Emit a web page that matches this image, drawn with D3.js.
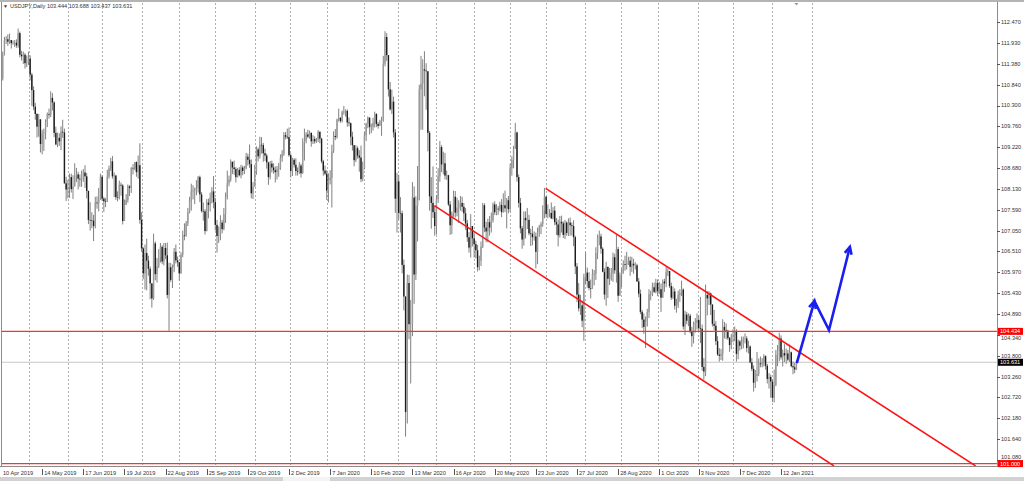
<!DOCTYPE html>
<html><head><meta charset="utf-8">
<script src="https://cdn.jsdelivr.net/npm/d3@7/dist/d3.min.js"></script>
<style>
html,body{margin:0;padding:0;background:#fff;overflow:hidden}
svg{display:block}
text{font-family:"Liberation Sans",Arial,sans-serif}
</style>
</head><body>
<svg id="chart" width="1024" height="481"></svg>
<script>
// ---------------- DATA ----------------
const symbolTitle = "USDJPY,Daily";
const lastQuote = ["103.444", "103.688", "103.437", "103.631"];

// Daily bars, 10 Apr 2019 .. 25 Jan 2021 (bar index 0..464)
const closes = [
111.00,111.63,112.00,112.02,111.96,112.00,111.92,111.93,111.93,111.86,112.18,111.62,111.58,111.62,111.40,
111.43,111.52,111.10,110.70,110.27,110.08,109.75,109.94,109.30,109.58,109.60,109.87,110.08,110.06,110.50,110.38,109.59,109.29,109.46,109.37,109.62,109.60,108.28,
108.12,108.18,108.44,108.13,108.20,108.47,108.51,108.40,108.38,108.55,108.56,108.46,108.08,107.33,107.32,107.31,107.17,107.78,107.76,107.85,
108.45,107.88,107.81,107.80,108.45,108.67,108.85,108.46,108.48,107.92,107.91,108.24,108.22,107.30,107.72,107.85,108.20,108.16,108.68,108.67,108.83,108.57,108.75,
107.33,106.59,105.94,106.47,106.27,106.06,105.68,105.29,106.72,105.92,106.12,106.36,106.63,106.25,106.60,106.41,105.38,106.10,105.77,106.10,106.50,106.28,
106.23,105.94,106.42,106.93,106.92,107.24,107.53,107.81,108.09,108.09,108.14,108.15,108.44,107.99,107.56,107.55,107.04,107.78,107.72,107.91,108.07,
107.79,107.20,106.91,106.94,107.26,107.09,107.48,107.92,108.28,108.38,108.84,108.69,108.65,108.44,108.63,108.49,108.69,108.60,108.67,108.97,108.89,108.78,108.02,
108.19,108.59,109.16,108.98,109.28,109.27,109.06,109.00,108.82,108.44,108.79,108.69,108.62,108.57,108.65,108.68,108.94,109.05,109.53,109.49,109.48,
109.01,108.60,108.89,108.76,108.60,108.58,108.74,108.54,109.34,109.38,109.55,109.49,109.59,109.37,109.43,109.37,109.42,109.62,109.44,108.85,108.61,
108.53,108.09,108.36,108.42,109.11,109.51,109.48,109.94,109.98,109.90,110.14,110.14,110.16,109.86,109.84,109.49,109.27,108.88,109.19,109.00,108.95,108.39,
108.67,109.52,109.83,109.98,109.74,109.75,109.85,110.08,109.82,109.77,109.89,109.91,111.39,112.08,111.61,110.72,110.20,110.40,109.60,107.88,
108.33,107.51,107.50,106.16,105.34,102.34,105.69,104.62,104.63,107.91,105.91,107.70,107.84,110.72,110.87,111.24,111.21,111.19,109.59,107.94,107.77,107.53,
107.17,107.87,108.46,109.22,108.77,108.80,108.48,108.49,107.73,107.19,107.49,107.93,107.52,107.65,107.76,107.77,107.67,107.50,107.24,106.88,106.61,107.17,
106.85,106.70,106.54,106.10,106.27,106.63,107.71,107.13,107.03,107.27,107.13,107.32,107.73,107.53,107.62,107.60,107.72,107.53,107.71,107.63,107.84,
107.61,108.67,108.89,109.18,109.60,108.44,107.77,107.11,106.82,107.38,107.32,107.33,106.98,106.97,106.88,106.90,106.50,107.02,107.16,107.22,107.56,107.93,
107.48,107.49,107.51,107.37,107.57,107.27,107.21,106.93,107.28,107.24,106.94,107.26,106.99,107.26,107.19,107.17,106.88,106.12,105.39,105.03,105.11,104.71,105.84,
105.96,105.74,105.56,105.55,105.92,105.93,106.47,106.86,106.90,106.58,105.98,105.39,106.11,105.80,105.80,105.94,106.36,106.02,106.57,105.36,105.89,
105.96,106.18,106.16,106.21,106.27,106.11,106.19,106.15,106.15,105.73,105.41,104.94,104.74,104.55,104.69,104.94,105.40,105.40,105.58,105.46,105.69,105.48,
105.53,105.31,105.73,105.68,105.97,106.00,105.61,105.31,105.47,105.10,105.11,105.38,105.43,105.52,104.56,104.87,104.71,104.84,104.42,104.31,104.61,104.65,
104.73,104.52,104.50,103.51,103.39,105.38,105.29,105.42,105.13,104.63,104.58,104.18,103.83,103.80,103.85,104.55,104.46,104.45,104.26,104.08,104.30,
104.33,104.43,103.85,104.17,104.06,104.15,104.24,104.25,104.00,104.04,103.63,103.46,103.10,103.28,103.33,103.60,103.58,103.63,103.79,103.54,103.20,103.25,
103.13,102.71,103.04,103.82,103.94,104.25,103.76,103.87,103.81,103.86,103.70,103.89,103.53,103.50,103.444,103.631];

const opens = [
111.10,111.00,111.63,112.00,112.02,111.96,112.00,111.92,111.93,111.93,111.86,112.18,111.62,111.58,111.62,
111.40,111.43,111.52,111.10,110.70,110.27,110.08,109.75,109.94,109.30,109.58,109.60,109.87,110.08,110.06,110.50,110.38,109.59,109.29,109.46,109.37,109.62,109.60,
108.28,108.12,108.18,108.44,108.13,108.20,108.47,108.51,108.40,108.38,108.55,108.56,108.46,108.08,107.33,107.32,107.31,107.17,107.78,107.76,
107.85,108.45,107.88,107.81,107.80,108.45,108.67,108.85,108.46,108.48,107.92,107.91,108.24,108.22,107.30,107.72,107.85,108.20,108.16,108.68,108.67,108.83,108.57,
108.75,107.33,106.59,105.94,106.47,106.27,106.06,105.68,105.29,106.72,105.92,106.12,106.36,106.63,106.25,106.60,106.41,105.38,106.10,105.77,106.10,106.50,
106.28,106.23,105.94,106.42,106.93,106.92,107.24,107.53,107.81,108.09,108.09,108.14,108.15,108.44,107.99,107.56,107.55,107.04,107.78,107.72,107.91,
108.07,107.79,107.20,106.91,106.94,107.26,107.09,107.48,107.92,108.28,108.38,108.84,108.69,108.65,108.44,108.63,108.49,108.69,108.60,108.67,108.97,108.89,108.78,
108.02,108.19,108.59,109.16,108.98,109.28,109.27,109.06,109.00,108.82,108.44,108.79,108.69,108.62,108.57,108.65,108.68,108.94,109.05,109.53,109.49,
109.48,109.01,108.60,108.89,108.76,108.60,108.58,108.74,108.54,109.34,109.38,109.55,109.49,109.59,109.37,109.43,109.37,109.42,109.62,109.44,108.85,
108.61,108.53,108.09,108.36,108.42,109.11,109.51,109.48,109.94,109.98,109.90,110.14,110.14,110.16,109.86,109.84,109.49,109.27,108.88,109.19,109.00,108.95,
108.39,108.67,109.52,109.83,109.98,109.74,109.75,109.85,110.08,109.82,109.77,109.89,109.91,111.39,112.08,111.61,110.72,110.20,110.40,109.60,
107.88,108.33,107.51,107.50,106.16,105.34,102.34,105.69,104.62,104.63,107.91,105.91,107.70,107.84,110.72,110.87,111.24,111.21,111.19,109.59,107.94,107.77,
107.53,107.17,107.87,108.46,109.22,108.77,108.80,108.48,108.49,107.73,107.19,107.49,107.93,107.52,107.65,107.76,107.77,107.67,107.50,107.24,106.88,106.61,
107.17,106.85,106.70,106.54,106.10,106.27,106.63,107.71,107.13,107.03,107.27,107.13,107.32,107.73,107.53,107.62,107.60,107.72,107.53,107.71,107.63,
107.84,107.61,108.67,108.89,109.18,109.60,108.44,107.77,107.11,106.82,107.38,107.32,107.33,106.98,106.97,106.88,106.90,106.50,107.02,107.16,107.22,107.56,
107.93,107.48,107.49,107.51,107.37,107.57,107.27,107.21,106.93,107.28,107.24,106.94,107.26,106.99,107.26,107.19,107.17,106.88,106.12,105.39,105.03,105.11,104.71,
105.84,105.96,105.74,105.56,105.55,105.92,105.93,106.47,106.86,106.90,106.58,105.98,105.39,106.11,105.80,105.80,105.94,106.36,106.02,106.57,105.36,
105.89,105.96,106.18,106.16,106.21,106.27,106.11,106.19,106.15,106.15,105.73,105.41,104.94,104.74,104.55,104.69,104.94,105.40,105.40,105.58,105.46,105.69,
105.48,105.53,105.31,105.73,105.68,105.97,106.00,105.61,105.31,105.47,105.10,105.11,105.38,105.43,105.52,104.56,104.87,104.71,104.84,104.42,104.31,104.61,
104.65,104.73,104.52,104.50,103.51,103.39,105.38,105.29,105.42,105.13,104.63,104.58,104.18,103.83,103.80,103.85,104.55,104.46,104.45,104.26,104.08,
104.30,104.33,104.43,103.85,104.17,104.06,104.15,104.24,104.25,104.00,104.04,103.63,103.46,103.10,103.28,103.33,103.60,103.58,103.63,103.79,103.54,103.20,
103.25,103.13,102.71,103.04,103.82,103.94,104.25,103.76,103.87,103.81,103.86,103.70,103.89,103.53,103.50,103.444];

const highs = [
111.20,111.70,112.08,112.10,112.15,112.17,112.00,111.99,112.00,112.02,112.30,112.22,111.72,111.70,111.66,
111.60,111.70,111.60,111.15,110.80,110.37,110.10,110.08,109.95,109.67,109.70,109.94,110.12,110.22,110.67,110.62,110.41,109.75,109.60,109.58,109.76,109.93,109.70,
108.45,108.37,108.53,108.53,108.49,108.80,108.68,108.58,108.51,108.61,108.65,108.75,108.55,108.09,107.79,107.53,107.46,107.93,107.94,108.16,
108.53,108.49,107.93,107.90,108.63,108.74,108.94,108.99,108.56,108.50,108.07,108.35,108.30,108.26,107.86,108.00,108.25,108.23,108.70,108.78,108.83,108.85,109.00,
109.32,107.53,106.62,106.69,106.84,106.40,106.12,105.65,106.97,106.77,106.34,106.57,106.73,106.67,106.73,106.73,106.74,106.22,106.21,106.17,106.60,106.69,
106.38,106.24,106.49,107.05,107.24,107.30,107.64,107.93,108.27,108.23,108.17,108.36,108.47,108.48,108.05,107.78,107.61,107.87,107.88,108.04,108.18,
108.47,107.90,107.33,107.16,107.45,107.33,107.64,108.04,108.61,108.48,108.90,108.84,108.87,108.70,108.68,108.70,108.76,108.74,108.73,109.07,109.05,109.29,108.90,
108.31,108.76,109.24,109.21,109.49,109.48,109.33,109.18,109.05,108.84,108.86,108.87,108.80,108.72,108.73,108.81,109.03,109.14,109.61,109.61,109.70,
109.73,109.06,108.94,108.93,108.93,108.69,108.83,108.79,109.45,109.70,109.61,109.67,109.65,109.60,109.53,109.50,109.46,109.66,109.58,109.46,108.89,
108.74,108.62,108.54,108.62,109.28,109.63,109.69,109.96,110.22,110.00,110.17,110.29,110.20,110.20,109.99,109.86,109.62,109.08,109.27,109.24,109.14,109.26,
108.84,109.61,109.85,110.02,110.00,109.83,109.98,110.14,110.10,109.87,109.93,110.01,111.59,112.23,112.18,111.48,110.91,110.71,110.53,109.69,
108.55,108.50,107.92,107.57,106.30,105.33,105.91,105.90,105.25,108.31,108.20,107.94,108.73,110.84,111.59,111.50,111.71,111.40,111.13,109.64,108.44,108.72,
107.70,107.97,108.67,109.38,109.27,109.10,109.07,108.61,108.50,107.82,107.55,108.09,108.08,107.91,107.84,107.95,107.93,107.77,107.64,107.33,107.02,107.48,
107.14,107.01,106.79,106.68,106.40,106.77,107.77,107.76,107.28,107.36,107.43,107.52,107.78,107.81,107.74,107.69,107.80,107.87,108.02,108.09,107.90,
107.95,108.79,108.98,109.25,109.85,109.62,108.51,107.90,107.17,107.55,107.55,107.64,107.46,107.10,107.17,107.03,107.00,107.13,107.20,107.28,107.71,108.16,
107.95,107.73,107.61,107.78,107.66,107.69,107.38,107.34,107.43,107.44,107.29,107.33,107.29,107.37,107.39,107.26,107.32,106.92,106.21,105.69,105.38,105.23,105.93,
106.48,106.09,105.97,105.78,106.05,106.03,106.62,106.95,107.05,106.97,106.62,106.07,106.24,106.10,106.08,106.08,106.48,106.45,106.95,106.63,105.96,
106.06,106.28,106.40,106.50,106.37,106.38,106.37,106.32,106.23,106.19,105.82,105.52,104.99,104.90,104.82,105.02,105.53,105.49,105.70,105.70,105.80,105.78,
105.72,105.68,105.78,105.80,106.11,106.07,106.00,105.70,105.60,105.55,105.28,105.49,105.53,105.75,105.55,104.97,104.94,104.90,104.89,104.55,104.69,104.78,
104.90,104.85,105.33,104.61,103.74,105.65,105.48,105.48,105.44,105.14,104.99,104.70,104.31,104.00,103.98,104.75,104.68,104.64,104.48,104.29,104.37,
104.49,104.56,104.49,104.22,104.21,104.30,104.30,104.38,104.31,104.19,104.07,103.74,103.55,103.43,103.90,103.73,103.78,103.74,103.84,103.81,103.59,103.35,
103.31,103.19,103.44,103.95,104.08,104.40,104.33,103.96,104.10,103.99,103.95,104.09,103.91,103.65,103.62,103.688];

const lows = [
110.84,110.95,111.60,111.90,111.85,111.90,111.78,111.88,111.82,111.80,111.80,111.55,111.47,111.38,111.26,
111.30,111.35,110.95,110.29,110.18,109.93,109.47,109.49,109.08,109.03,109.12,109.42,109.74,109.96,110.00,110.17,109.48,109.27,109.22,109.25,109.14,109.46,108.27,
107.82,107.89,107.90,108.04,107.87,108.28,108.31,108.12,108.19,108.19,108.32,108.16,107.89,107.22,107.05,107.11,106.78,107.11,107.62,107.55,
107.86,107.82,107.54,107.66,107.80,108.40,108.60,108.40,107.92,107.85,107.81,107.86,107.96,107.21,107.36,107.73,107.78,107.95,108.03,108.51,108.62,108.45,108.40,
107.23,106.50,105.79,105.52,105.50,105.88,105.27,105.05,105.25,105.76,105.70,106.08,106.22,106.18,106.15,106.31,105.29,104.45,105.72,105.56,105.97,106.20,
106.11,105.75,105.93,106.36,106.80,106.89,107.17,107.50,107.57,107.86,107.74,107.97,108.04,107.79,107.52,107.31,106.95,107.03,107.37,107.55,107.76,
107.63,107.05,106.48,106.73,106.80,106.98,107.06,107.25,107.86,108.20,108.32,108.52,108.50,108.30,108.43,108.46,108.41,108.49,108.52,108.64,108.74,108.68,107.89,
107.87,108.24,108.50,108.85,108.92,109.05,108.84,108.86,108.66,108.24,108.38,108.56,108.53,108.30,108.38,108.45,108.63,108.84,108.99,109.42,109.43,
108.97,108.43,108.47,108.69,108.48,108.48,108.52,108.43,108.53,108.87,109.32,109.45,109.44,109.23,109.30,109.31,109.33,109.35,109.32,108.80,108.48,
108.49,107.85,107.78,108.25,107.65,109.07,109.40,109.44,109.88,109.85,109.86,110.06,110.01,109.75,109.76,109.27,109.13,108.72,108.83,108.92,108.58,108.31,
108.33,108.64,109.38,109.71,109.55,109.58,109.65,109.73,109.74,109.70,109.78,109.51,109.88,111.32,111.46,110.53,110.17,110.08,109.47,107.51,
107.00,107.34,107.00,105.94,104.98,101.70,102.04,104.23,103.08,104.31,105.15,105.77,106.77,107.84,109.67,109.67,110.54,110.19,109.11,107.57,107.10,107.38,
106.92,106.95,107.77,108.32,108.57,108.51,108.38,108.37,107.69,106.94,106.96,107.41,107.39,107.42,107.25,107.57,107.54,107.30,107.07,106.76,106.48,106.35,
106.64,106.35,106.33,105.99,106.02,106.13,106.60,107.01,106.75,106.75,106.92,107.00,107.26,107.46,107.45,107.46,107.55,107.40,107.52,107.53,107.11,
107.50,107.54,108.48,108.67,109.17,108.32,107.65,106.98,106.58,106.66,106.85,107.09,106.93,106.65,106.67,106.79,106.07,106.18,106.89,106.96,107.15,107.37,
107.39,107.37,107.40,107.35,107.34,107.19,106.94,106.64,106.87,107.00,106.86,106.83,106.92,106.91,106.92,106.92,106.65,105.92,105.19,104.95,104.86,104.54,104.19,
105.67,105.57,105.50,105.29,105.54,105.63,105.77,106.31,106.67,106.45,105.97,105.26,105.10,105.30,105.64,105.75,105.72,105.93,105.70,105.20,105.39,
105.58,105.93,106.01,106.04,106.16,105.88,105.98,105.93,106.04,105.72,105.32,104.88,104.52,104.37,104.00,104.56,104.78,105.24,105.35,105.43,105.42,105.35,
105.40,104.94,105.30,105.46,105.58,105.87,105.56,105.25,105.27,105.00,104.92,105.04,105.20,105.35,104.48,104.34,104.62,104.57,104.38,104.03,104.12,104.40,
104.48,104.44,104.13,103.41,103.18,103.27,104.85,105.12,104.86,104.56,104.46,104.08,103.80,103.65,103.69,103.67,104.25,104.23,104.21,103.90,103.97,
104.15,104.18,103.65,103.71,103.94,103.97,103.99,104.12,103.89,103.86,103.60,103.40,102.87,102.96,103.13,103.27,103.50,103.50,103.52,103.44,103.08,102.95,
102.71,102.60,102.59,103.01,103.53,103.66,103.70,103.52,103.64,103.59,103.66,103.64,103.50,103.32,103.35,103.437];

// Right price-axis tick labels
const priceTicks = [112.470,111.930,111.380,110.840,110.300,109.760,109.220,108.680,108.130,107.590,107.050,
  106.510,105.970,105.430,104.890,104.340,103.800,103.260,102.720,102.180,101.640,101.080];

// Time-axis labels and the bar index at which each sits
const dateLabels = ["10 Apr 2019","14 May 2019","17 Jun 2019","19 Jul 2019","22 Aug 2019","25 Sep 2019",
  "29 Oct 2019","2 Dec 2019","7 Jan 2020","10 Feb 2020","13 Mar 2020","16 Apr 2020","20 May 2020",
  "23 Jun 2020","27 Jul 2020","28 Aug 2020","1 Oct 2020","3 Nov 2020","7 Dec 2020","12 Jan 2021"];
const dateLabelBars = [0,24,48,72,96,120,144,168,192,216,240,264,288,312,336,360,384,407,431,455];

// Vertical dotted grid separators (bar index)
const gridBars = [16.3,39.1,58.9,82.3,103.9,124.9,148.2,168.6,190.2,211.8,231.6,253.8,276,297,318,340.7,
  361.7,383.3,406.6,427,449.8,473.2];

// Drawn objects: horizontal levels, bid line, channel, forecast arrow  [bar, price]
const levelPrices = [104.434, 101.000];
const bidPrice = 103.631;
const channelUpper = [[317.7,108.15],[568.5,100.94]];
const channelLower = [[252.8,107.70],[485.9,100.94]];
const forecastPath = [[464.2,103.61],[474.5,105.22],[483.0,104.47],[495.2,106.63]];

// ---------------- DRAW ----------------
const svg = d3.select("#chart");
const PL = 2, PR = 997, PT = 3, PB = 466;
const x = d3.scaleLinear().domain([0, 581]).range([1, PR]);
const y = d3.scaleLinear().domain([100.937, 112.963]).range([PB, PT]);

svg.append("rect").attr("width",1024).attr("height",481).attr("fill","#fff");
svg.append("defs").append("clipPath").attr("id","plotclip")
  .append("rect").attr("x",PL).attr("y",PT).attr("width",PR-PL).attr("height",PB-PT);

// window chrome
svg.append("rect").attr("x",0).attr("y",0).attr("width",1024).attr("height",2).attr("fill","#b4b4b4");
svg.append("rect").attr("x",0).attr("y",477).attr("width",1024).attr("height",4).attr("fill","#d2d2d2");
svg.append("rect").attr("x",283).attr("y",477).attr("width",47).attr("height",4).attr("fill","#f4f4f4");

const plot = svg.append("g").attr("clip-path","url(#plotclip)");

// grid
plot.selectAll("line.grid").data(gridBars).join("line").attr("class","grid")
  .attr("x1",d=>Math.round(x(d))+0.5).attr("x2",d=>Math.round(x(d))+0.5)
  .attr("y1",PT).attr("y2",PB)
  .attr("stroke","#b0b0b0").attr("stroke-width",1).attr("stroke-dasharray","2,2");

// bid line
plot.append("line").attr("x1",PL).attr("x2",PR).attr("y1",y(bidPrice)).attr("y2",y(bidPrice))
  .attr("stroke","#c8c8c8").attr("stroke-width",1);

// candles
const bars = d3.range(closes.length).map(i => ({i, o:opens[i], h:highs[i], l:lows[i], c:closes[i]}));
plot.selectAll("line.wick").data(bars).join("line").attr("class","wick")
  .attr("x1",d=>x(d.i)).attr("x2",d=>x(d.i))
  .attr("y1",d=>y(Math.max(d.h,d.o,d.c))).attr("y2",d=>y(Math.min(d.l,d.o,d.c)))
  .attr("stroke","#808080").attr("stroke-width",1);
plot.selectAll("rect.body").data(bars).join("rect").attr("class","body")
  .attr("x",d=>x(d.i)-0.7).attr("width",1.4)
  .attr("y",d=>y(Math.max(d.o,d.c)))
  .attr("height",d=>Math.max(0.6, Math.abs(y(d.o)-y(d.c))))
  .attr("fill",d=>d.c < d.o ? "#1c1c1c" : "#9a9a9a");

// horizontal levels
plot.selectAll("line.level").data(levelPrices).join("line").attr("class","level")
  .attr("x1",0).attr("x2",PR).attr("y1",d=>y(d)).attr("y2",d=>y(d))
  .attr("stroke","#ff3030").attr("stroke-width",1.2);

// channel
const ln = d3.line().x(d=>x(d[0])).y(d=>y(d[1]));
[channelUpper, channelLower].forEach(c => {
  plot.append("path").attr("d", ln(c)).attr("fill","none")
    .attr("stroke","#ff1414").attr("stroke-width",1.6);
});

// forecast arrow
const fp = forecastPath.map(d => [x(d[0]), y(d[1])]);
plot.append("path").attr("d", d3.line()(fp)).attr("fill","none")
  .attr("stroke","#1a1ff0").attr("stroke-width",2.6).attr("stroke-linejoin","miter");
function head(p0, p1){
  const a = Math.atan2(p1[1]-p0[1], p1[0]-p0[0]), L = 8, s = 0.45;
  return `M${p1[0]-L*Math.cos(a-s)},${p1[1]-L*Math.sin(a-s)}L${p1[0]},${p1[1]}L${p1[0]-L*Math.cos(a+s)},${p1[1]-L*Math.sin(a+s)}`;
}
[[fp[0],fp[1]],[fp[2],fp[3]]].forEach(([a,b]) => {
  plot.append("path").attr("d", head(a,b)).attr("fill","none")
    .attr("stroke","#1a1ff0").attr("stroke-width",2.6).attr("stroke-linejoin","miter");
});

// frame
svg.append("line").attr("x1",1.5).attr("x2",1.5).attr("y1",2).attr("y2",PB).attr("stroke","#8c8c8c");
svg.append("line").attr("x1",PR+0.5).attr("x2",PR+0.5).attr("y1",2).attr("y2",PB+1).attr("stroke","#8c8c8c");
svg.append("line").attr("x1",0).attr("x2",PR).attr("y1",PB+0.5).attr("y2",PB+0.5).attr("stroke","#8c8c8c");

// shift marker
const lx = x(closes.length-1);
svg.append("path").attr("d",`M${lx-2},3L${lx+2},3L${lx},5.5Z`).attr("fill","#999");

// price tags (drawn objects' prices and the bid)
const tags = [{p:levelPrices[0], bg:"#ff0000"},{p:bidPrice, bg:"#000"},{p:levelPrices[1], bg:"#ff0000"}];
const TAG_H = 7;
// tick labels that collide with a tag are nudged just clear of it (as the terminal does)
function labelY(v){
  let yy = y(v);
  tags.forEach(t => {
    const ty = y(t.p), gap = TAG_H/2 + 3.2;
    if (Math.abs(yy - ty) < gap) yy = yy >= ty ? ty + gap : ty - gap;
  });
  return yy;
}

// price axis
const ax = svg.append("g");
ax.selectAll("line").data(priceTicks).join("line")
  .attr("x1",PR).attr("x2",PR+3).attr("y1",d=>Math.round(y(d))+0.5).attr("y2",d=>Math.round(y(d))+0.5)
  .attr("stroke","#555");
ax.selectAll("text").data(priceTicks).join("text")
  .attr("x",PR+4).attr("y",d=>labelY(d)).attr("dy","0.35em")
  .attr("font-size","5.6px").attr("fill","#333").text(d=>d.toFixed(3));

tags.forEach(t => {
  svg.append("rect").attr("x",PR+1).attr("y",y(t.p)-TAG_H/2).attr("width",25).attr("height",TAG_H).attr("fill",t.bg);
  svg.append("text").attr("x",PR+3).attr("y",y(t.p)).attr("dy","0.35em")
    .attr("font-size","5.6px").attr("fill","#fff").text(t.p.toFixed(3));
});

// time axis
const tx = svg.append("g");
tx.selectAll("line").data(dateLabelBars.slice(1)).join("line")
  .attr("x1",d=>Math.round(x(d))+0.5).attr("x2",d=>Math.round(x(d))+0.5)
  .attr("y1",PB+3).attr("y2",PB+9).attr("stroke","#555");
tx.selectAll("text").data(dateLabels).join("text")
  .attr("x",(d,i)=>x(dateLabelBars[i])+2).attr("y",PB+7).attr("dy","0.35em")
  .attr("font-size","5.6px").attr("fill","#333").text(d=>d);

// header
svg.append("text").attr("x",3).attr("y",6).attr("dy","0.35em").attr("font-size","5px").attr("fill","#333").text("\u25BC");
svg.append("text").attr("x",10).attr("y",6).attr("dy","0.35em").attr("font-size","5.6px").attr("fill","#333")
  .text(symbolTitle + "  " + lastQuote.join(" "));
</script>
</body></html>
